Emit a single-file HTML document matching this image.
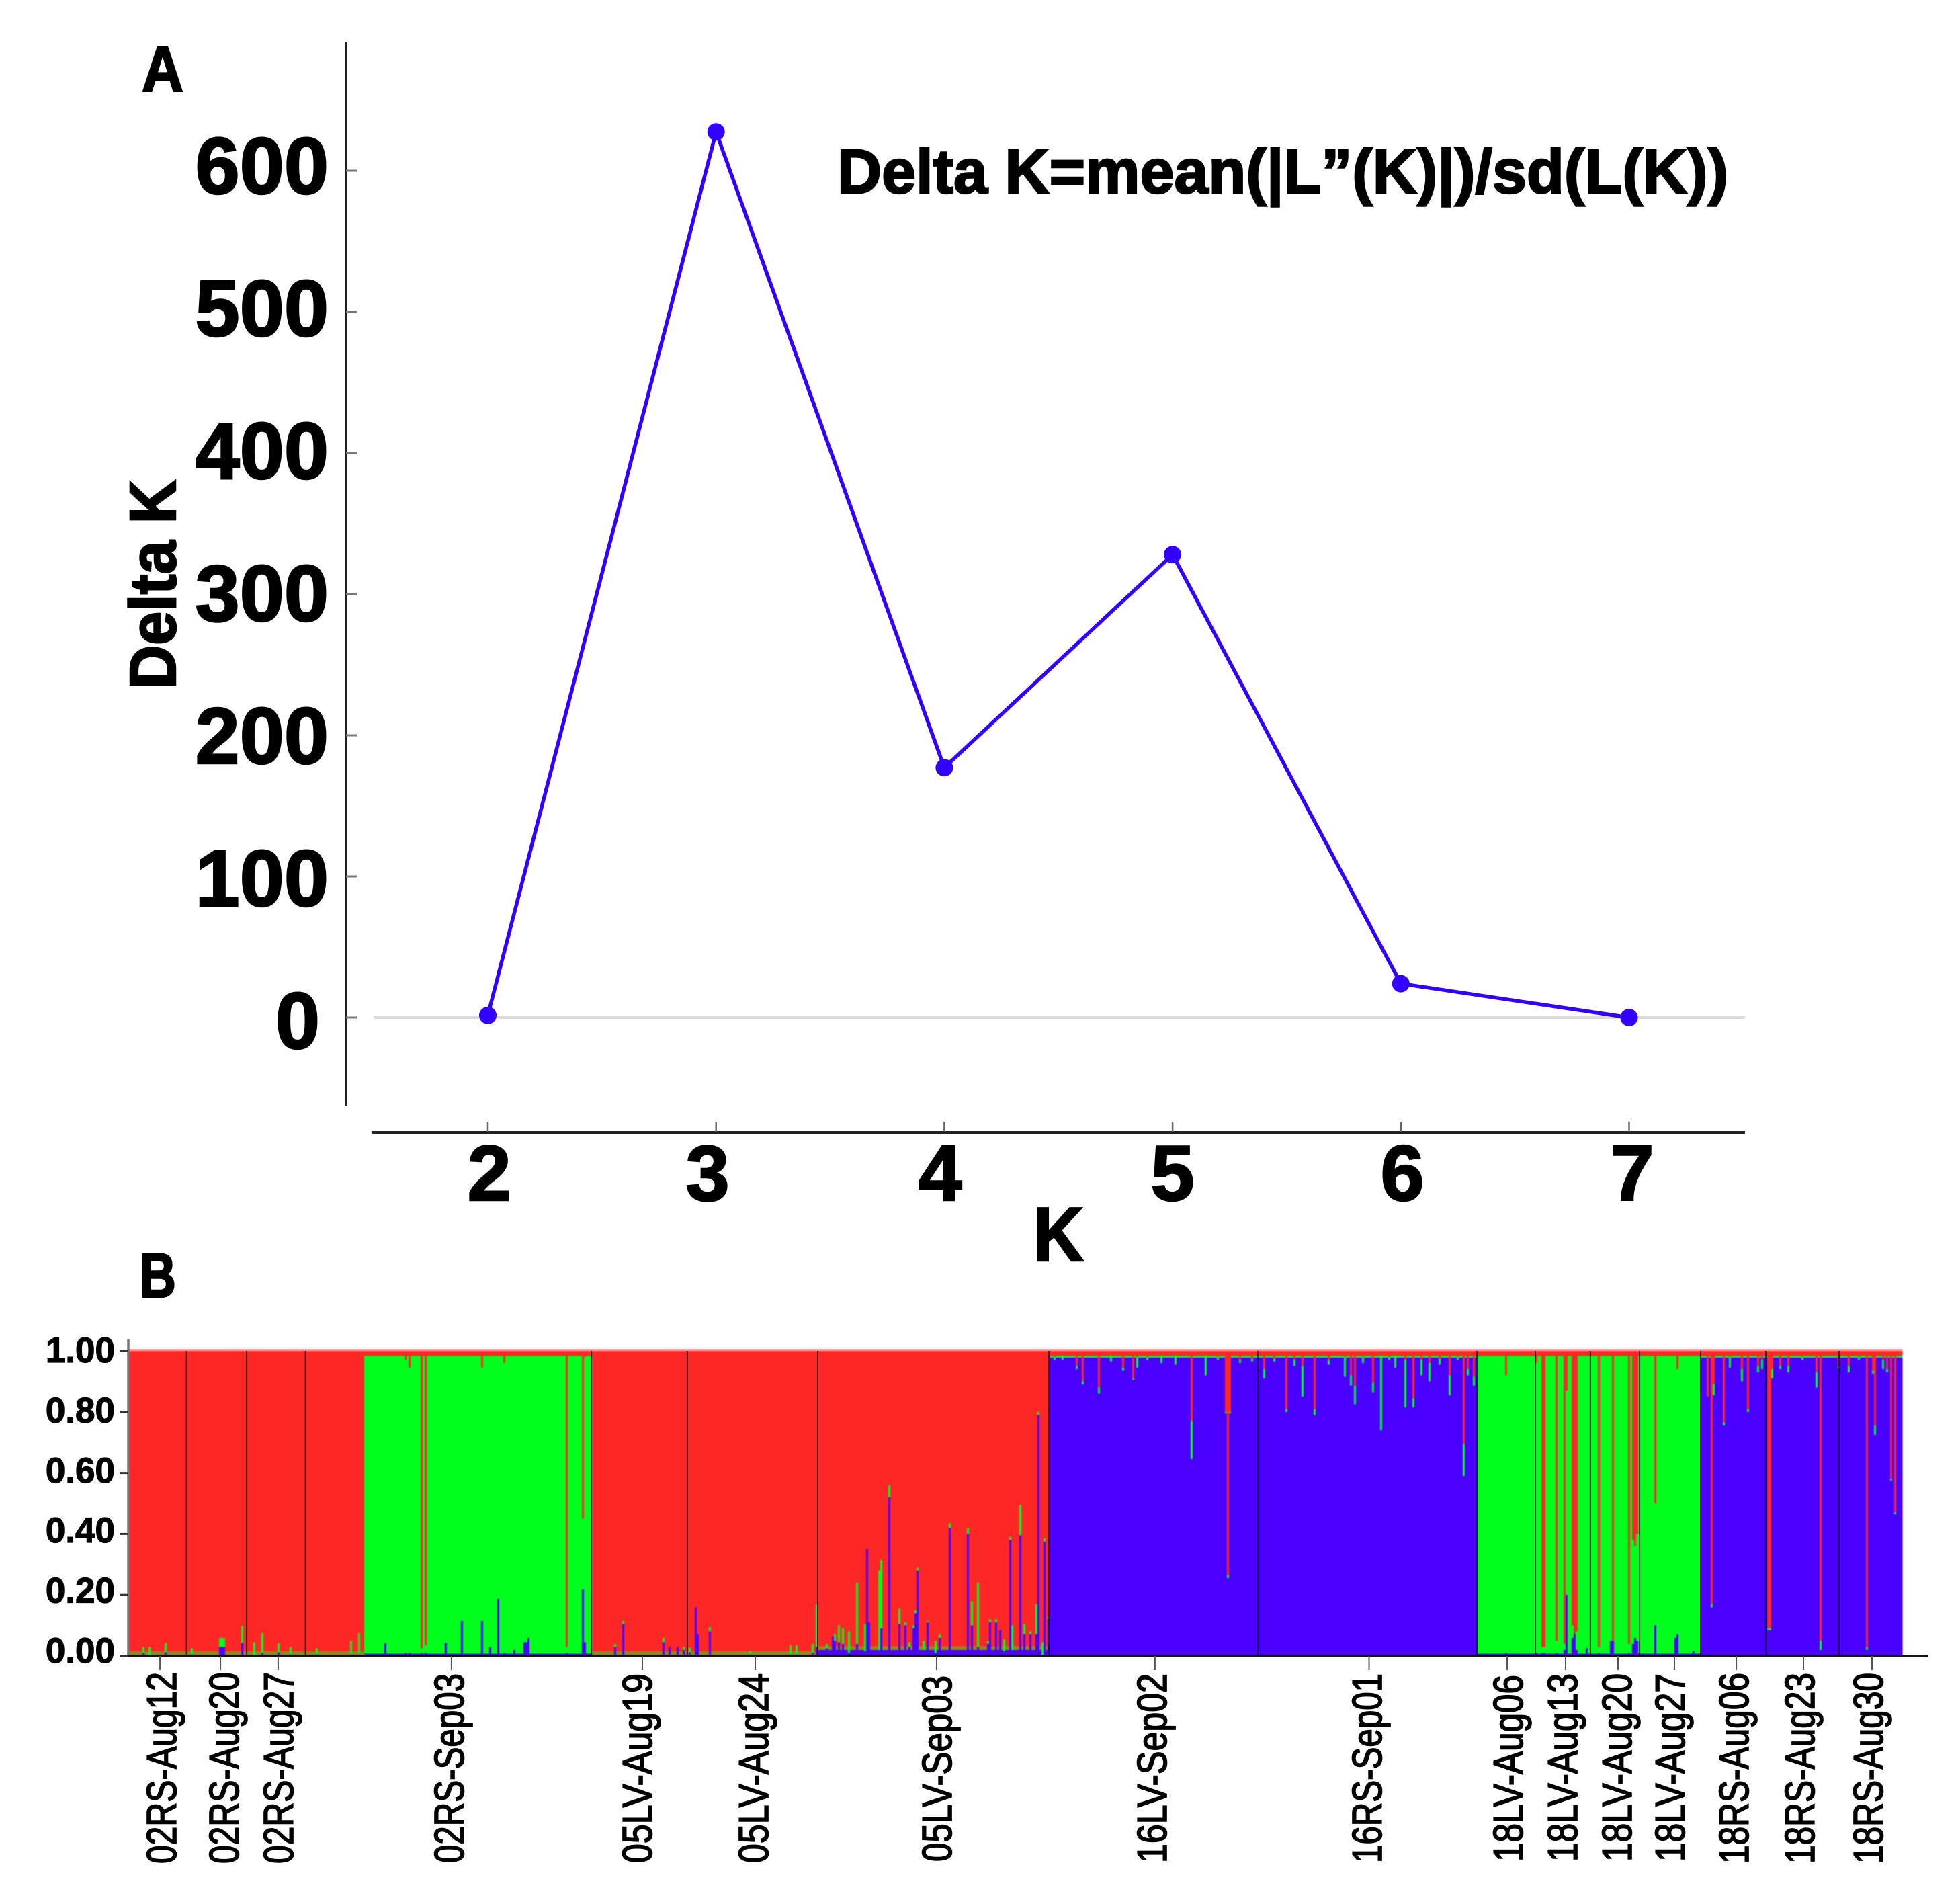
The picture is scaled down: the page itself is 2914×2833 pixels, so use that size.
<!DOCTYPE html>
<html lang="en">
<head>
<meta charset="utf-8">
<title>Delta K and population structure</title>
<style>
html,body{margin:0;padding:0;background:#fff;}
svg{display:block;}
text{font-family:"Liberation Sans",sans-serif;fill:#000;}
.big{font-weight:bold;stroke:#000;stroke-width:2.5px;}
.pop{font-weight:normal;font-size:62px;stroke:#000;stroke-width:1.7px;}
</style>
</head>
<body>
<svg id="figure" width="2914" height="2833" viewBox="0 0 2914 2833" xmlns="http://www.w3.org/2000/svg">
  <rect x="0" y="0" width="2914" height="2833" fill="#fff"/>
  <text class="big" x="211" y="136" font-size="96" textLength="62" lengthAdjust="spacingAndGlyphs">A</text>
  <text class="big" x="208" y="1930" font-size="94" textLength="54" lengthAdjust="spacingAndGlyphs">B</text>
  <text class="big" x="1246" y="287" font-size="93" textLength="1326" lengthAdjust="spacingAndGlyphs">Delta K=mean(|L”(K)|)/sd(L(K))</text>
  <text class="big" transform="translate(261,1025) rotate(-90)" font-size="97" textLength="311" lengthAdjust="spacingAndGlyphs">Delta K</text>
  <text class="big" x="1538" y="1876" font-size="114" textLength="75" lengthAdjust="spacingAndGlyphs">K</text>

  <g id="panelA"></g>
  <g id="panelB"></g>

  <g>
    <text class="pop" transform="translate(262,2773) rotate(-90)" textLength="285" lengthAdjust="spacingAndGlyphs">02RS-Aug12</text>
    <text class="pop" transform="translate(355,2773) rotate(-90)" textLength="285" lengthAdjust="spacingAndGlyphs">02RS-Aug20</text>
    <text class="pop" transform="translate(436,2773) rotate(-90)" textLength="285" lengthAdjust="spacingAndGlyphs">02RS-Aug27</text>
    <text class="pop" transform="translate(690,2772) rotate(-90)" textLength="282" lengthAdjust="spacingAndGlyphs">02RS-Sep03</text>
    <text class="pop" transform="translate(970,2772) rotate(-90)" textLength="282" lengthAdjust="spacingAndGlyphs">05LV-Aug19</text>
    <text class="pop" transform="translate(1143,2772) rotate(-90)" textLength="282" lengthAdjust="spacingAndGlyphs">05LV-Aug24</text>
    <text class="pop" transform="translate(1416,2770) rotate(-90)" textLength="277" lengthAdjust="spacingAndGlyphs">05LV-Sep03</text>
    <text class="pop" transform="translate(1736,2772) rotate(-90)" textLength="282" lengthAdjust="spacingAndGlyphs">16LV-Sep02</text>
    <text class="pop" transform="translate(2056,2772) rotate(-90)" textLength="282" lengthAdjust="spacingAndGlyphs">16RS-Sep01</text>
    <text class="pop" transform="translate(2266,2770) rotate(-90)" textLength="278" lengthAdjust="spacingAndGlyphs">18LV-Aug06</text>
    <text class="pop" transform="translate(2347,2770) rotate(-90)" textLength="280" lengthAdjust="spacingAndGlyphs">18LV-Aug13</text>
    <text class="pop" transform="translate(2428,2770) rotate(-90)" textLength="280" lengthAdjust="spacingAndGlyphs">18LV-Aug20</text>
    <text class="pop" transform="translate(2507,2770) rotate(-90)" textLength="280" lengthAdjust="spacingAndGlyphs">18LV-Aug27</text>
    <text class="pop" transform="translate(2602,2773) rotate(-90)" textLength="284" lengthAdjust="spacingAndGlyphs">18RS-Aug06</text>
    <text class="pop" transform="translate(2700,2773) rotate(-90)" textLength="284" lengthAdjust="spacingAndGlyphs">18RS-Aug23</text>
    <text class="pop" transform="translate(2802,2773) rotate(-90)" textLength="284" lengthAdjust="spacingAndGlyphs">18RS-Aug30</text>
  </g>
</svg>
<script>
// ---------- Panel A data ----------
const kValues = [2, 3, 4, 5, 6, 7];
const deltaK = [1.5, 627.5, 177, 328, 24, 0];
const yTickValues = [0, 100, 200, 300, 400, 500, 600];

// ---------- Panel B data (shares per sample, sample index 0..879) ----------
const sampleCount = 880;
const groupDominant = ['red', 'green', 'red', 'red', 'blue', 'green', 'blue'];
const groupEndSample = [117, 230, 342, 457, 669, 780, 880];
const groupBaseRed = [0, 0.016, 0, 0, 0.016, 0.016, 0.016];
const groupBaseGreen = [0.012, 0, 0.012, 0.012, 0.006, 0, 0.006];
const groupBaseBlue = [0.003, 0.008, 0.003, 0.02, 0, 0.008, 0];

const redGroupSamples = [7,10,18,31,45,46,47,56,62,66,74,80,93,110,114,241,245,265,268,272,275,278,281,282,288,308,328,331,339,341,346,349,350,352,354,357,361,365,366,367,372,373,377,382,385,387,389,390,391,394,396,400,402,407,416,418,421,426,427,430,432,434,437,438,442,444,447,450,451,453,454,456];
const redGroupBlue = [0.01,0,0.012,0.005,0.03,0.03,0.03,0.043,0,0.01,0.012,0.005,0.005,0.005,0.005,0.03,0.105,0.045,0.03,0.03,0.02,0.012,0.16,0.07,0.08,0.005,0.005,0.005,0.01,0.03,0.025,0.065,0.05,0.045,0.04,0.01,0.04,0.015,0.35,0.11,0.02,0.09,0.52,0.105,0.1,0.03,0.09,0.14,0.28,0.02,0.11,0.01,0.06,0.42,0.4,0.1,0.03,0.04,0.11,0.11,0.085,0.015,0.38,0.02,0.395,0.07,0.07,0.07,0.79,0,0.375,0.12];
const redGroupGreen = [0.02,0.03,0.03,0.02,0.03,0.03,0.03,0.055,0.045,0.065,0.03,0.025,0.02,0.045,0.07,0.01,0.01,0.015,0,0,0.01,0.015,0,0,0.015,0.01,0.03,0.03,0.03,0.14,0.015,0,0.02,0.055,0.05,0.07,0.2,0.09,0,0,0.26,0.225,0.04,0.05,0.01,0.015,0.01,0.01,0.01,0.03,0.005,0.04,0.01,0.015,0.02,0.08,0.21,0.01,0.01,0.01,0,0.04,0.01,0.08,0.1,0.035,0.01,0.1,0.01,0.045,0.01,0.01];

const greenGroupSamples = [127,137,139,145,147,157,165,175,179,183,186,191,196,197,198,217,225,226,683,698,701,702,708,712,713,716,717,718,723,729,735,736,744,746,747,748,757,767,768,776];
const greenGroupRed = [0.016,0.03,0.055,0.975,0.965,0.016,0.016,0.055,0.016,0.016,0.04,0.016,0.016,0.016,0.016,0.97,0.55,0.02,0.08,0.04,0.97,0.97,0.95,0.96,0.13,0.9,0.93,0.92,0.016,0.97,0.016,0.95,0.96,0.62,0.64,0.6,0.5,0.016,0.06,0.016];
const greenGroupBlue = [0.042,0.01,0.01,0.01,0.01,0.043,0.115,0.115,0.03,0.187,0.01,0.02,0.045,0.045,0.06,0.01,0.218,0.045,0.01,0.01,0.01,0.01,0.01,0.02,0.2,0.06,0.07,0.02,0.025,0.01,0.05,0.05,0.01,0.04,0.06,0.05,0.1,0.06,0.07,0.015];

const blueGroupSamples = [459,463,470,473,481,487,493,498,500,505,512,519,527,534,540,544,545,546,551,557,563,568,574,578,582,588,595,603,606,608,612,617,621,625,628,633,637,641,645,650,655,659,662,664,667,783,785,786,791,794,800,803,808,810,813,814,815,819,823,830,837,839,848,853,858,862,865,866,870,872,874,876];
const blueGroupRed = [0.02,0.015,0.05,0.1,0.12,0.015,0.055,0.09,0.02,0.02,0.015,0.015,0.23,0.015,0.02,0.2,0.735,0.2,0.03,0.025,0.06,0.025,0.19,0.03,0.05,0.19,0.03,0.02,0.08,0.115,0.02,0.105,0.015,0.02,0.015,0.03,0.155,0.03,0.04,0.025,0.08,0.02,0.305,0.06,0.085,0.15,0.83,0.11,0.235,0.02,0.06,0.19,0.05,0.03,0.91,0.91,0.06,0.05,0.05,0.02,0.07,0.95,0.05,0.05,0.02,0.97,0.065,0.245,0.03,0.06,0.42,0.53];
const blueGroupGreen = [0.01,0.015,0.01,0.01,0.02,0.02,0.01,0.005,0.035,0.01,0.025,0.03,0.125,0.065,0.01,0.005,0.01,0.005,0.01,0.01,0.03,0.01,0.01,0.02,0.1,0.02,0.015,0.065,0.035,0.06,0.02,0.03,0.245,0.01,0.04,0.155,0.03,0.05,0.06,0.02,0.065,0.01,0.105,0.02,0.03,0,0.01,0.035,0.01,0.035,0.04,0.01,0.02,0.03,0.005,0.005,0.03,0.01,0.02,0.01,0.05,0.03,0.01,0.02,0.01,0.01,0.01,0.03,0.03,0.01,0.005,0.005];

const dividerSamples = [28.9, 58.7, 87.9, 229.7, 277.3, 342, 456.7, 560.3, 669, 698, 725.3, 749.7, 780, 812.3, 848.7];
const barTickValues = [0, 0.2, 0.4, 0.6, 0.8, 1];
const barTickLabels = ['0.00', '0.20', '0.40', '0.60', '0.80', '1.00'];
const populationTickSamples = [15.7, 45.7, 74.3, 160.3, 255, 311, 401, 509.3, 615.5, 684, 713, 739, 767, 797.7, 831, 865];

// ---------- helpers ----------
const NS = 'http://www.w3.org/2000/svg';
function make(parent, tag, attrs) {
  const el = document.createElementNS(NS, tag);
  for (const k in attrs) el.setAttribute(k, attrs[k]);
  parent.appendChild(el);
  return el;
}

// ---------- Panel A ----------
const panelA = document.getElementById('panelA');
const lineColor = '#3300ff';
function xA(k) { return 726 + (k - 2) * 339.7; }
function yA(v) { return 1514 - 2.1 * v; }
function yLabelA(v) { return 1560 - 2.12 * v; }

const yAxisA = make(panelA, 'line', {x1: 515, x2: 515, y1: 62, y2: 1646, stroke: '#222', 'stroke-width': 4});


const xAxisA = make(panelA, 'line', {x1: 553, x2: 2597, y1: 1685.5, y2: 1685.5, stroke: '#222', 'stroke-width': 5});


const zeroLine = make(panelA, 'line', {x1: 556, x2: 2597, y1: yA(0), y2: yA(0), stroke: '#dcdcdc', 'stroke-width': 4});



yTickValues.forEach(function (v) {
  const t = make(panelA, 'line', {x1: 515, x2: 531, y1: yA(v), y2: yA(v), stroke: '#777', 'stroke-width': 3});
  
  
  const label = make(panelA, 'text', {x: v === 0 ? 476 : 489, y: yLabelA(v), 'font-size': 119, 'text-anchor': 'end', class: 'big'});
  
  
  label.textContent = String(v);
});

const xLabelCenters = {2: 728, 3: 1053, 4: 1399, 5: 1745, 6: 2087, 7: 2429};
kValues.forEach(function (k) {
  const t = make(panelA, 'line', {x1: xA(k), x2: xA(k), y1: 1669, y2: 1685, stroke: '#666', 'stroke-width': 2.5});
  
  
  const label = make(panelA, 'text', {x: xLabelCenters[k], y: 1786, 'font-size': 117, 'text-anchor': 'middle', class: 'big'});
  
  
  label.textContent = String(k);
});

const linePts = kValues.map(function (k, i) { return xA(k) + ',' + yA(deltaK[i]); }).join(' ');
const deltaLine = make(panelA, 'polyline', {points: linePts, fill: 'none', stroke: lineColor, 'stroke-width': 5.5, 'stroke-linejoin': 'round'});


kValues.forEach(function (k, i) {
  const c = make(panelA, 'circle', {cx: xA(k), cy: yA(deltaK[i]), r: 13, fill: lineColor});
  
  
});

// ---------- Panel B ----------
const panelB = document.getElementById('panelB');
const barsLeft = 191, barsRight = 2831, barsTop = 2010, barsBottom = 2464;
const sampleWidth = (barsRight - barsLeft) / sampleCount;
function xB(i) { return barsLeft + i * sampleWidth; }
function yB(v) { return barsBottom - (barsBottom - barsTop) * v; }
function yLabelB(v) { return 2474 - 447 * v; }
const colors = {red: '#ff2626', green: '#00ff1c', blue: '#4a00ff', ribbon: '#8f8a1c'};

const redOverride = {}, greenOverride = {}, blueOverride = {};
redGroupSamples.forEach(function (s, i) {
  blueOverride[s] = redGroupBlue[i];
  greenOverride[s] = redGroupGreen[i];
  redOverride[s] = 1 - redGroupBlue[i] - redGroupGreen[i];
});
greenGroupSamples.forEach(function (s, i) {
  redOverride[s] = greenGroupRed[i];
  blueOverride[s] = greenGroupBlue[i];
  greenOverride[s] = 1 - greenGroupRed[i] - greenGroupBlue[i];
});
blueGroupSamples.forEach(function (s, i) {
  redOverride[s] = blueGroupRed[i];
  greenOverride[s] = blueGroupGreen[i];
  blueOverride[s] = 1 - blueGroupRed[i] - blueGroupGreen[i];
});

const topEdge = make(panelB, 'rect', {x: barsLeft, y: 2007, width: barsRight - barsLeft, height: 3.5, fill: '#ffa6a6'});



const barsLayer = make(panelB, 'g', {'shape-rendering': 'crispEdges', style: 'filter:blur(0.7px)'});



function drawSegment(i, share0, share1, color) {
  if (share1 - share0 <= 0) return;
  const seg = make(barsLayer, 'rect', {x: xB(i), width: sampleWidth + 0.4, y: yB(share1), height: yB(share0) - yB(share1), fill: color});
  
  
}

let group = 0;
for (let i = 0; i < sampleCount; i++) {
  while (i >= groupEndSample[group]) group++;
  let r, g, b;
  let greenColor = colors.green;
  if (i in redOverride) {
    r = redOverride[i]; g = greenOverride[i]; b = blueOverride[i];
  } else {
    const dom = groupDominant[group];
    r = groupBaseRed[group]; g = groupBaseGreen[group]; b = groupBaseBlue[group];
    if (dom === 'red') { r = 1 - g - b; greenColor = colors.ribbon; }
    if (dom === 'green') g = 1 - r - b;
    if (dom === 'blue') b = 1 - r - g;
  }
  drawSegment(i, 0, b, colors.blue);
  drawSegment(i, b, b + g, greenColor);
  drawSegment(i, b + g, 1, colors.red);
}

dividerSamples.forEach(function (s) {
  const d = make(panelB, 'line', {x1: xB(s), x2: xB(s), y1: barsTop, y2: barsBottom, stroke: '#000', 'stroke-opacity': 0.72, 'stroke-width': 2});
  
  
});

const yAxisB = make(panelB, 'line', {x1: barsLeft, x2: barsLeft, y1: 1993, y2: barsBottom, stroke: '#777', 'stroke-width': 3.5});


const xAxisB = make(panelB, 'line', {x1: 178, x2: 2869, y1: barsBottom, y2: barsBottom, stroke: '#111', 'stroke-width': 4});



barTickValues.forEach(function (v, i) {
  const t = make(panelB, 'line', {x1: 178, x2: barsLeft, y1: yB(v), y2: yB(v), stroke: '#333', 'stroke-width': 3});
  
  
  const label = make(panelB, 'text', {x: 171, y: yLabelB(v), 'font-size': 53, 'font-weight': 'bold', 'text-anchor': 'end', stroke: '#000', 'stroke-width': 1.2});
  
  
  label.textContent = barTickLabels[i];
});

populationTickSamples.forEach(function (s) {
  const t = make(panelB, 'line', {x1: xB(s), x2: xB(s), y1: barsBottom, y2: barsBottom + 21, stroke: '#555', 'stroke-width': 2});
  
  
});
</script>
</body>
</html>
